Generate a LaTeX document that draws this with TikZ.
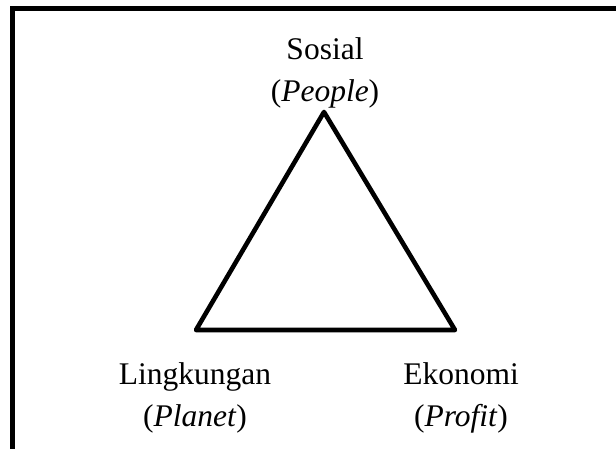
\documentclass[tikz,border=0pt]{standalone}
\usepackage{fontspec}
\setmainfont{Liberation Serif}
\begin{document}
\begin{tikzpicture}[x=1pt,y=-1pt,
  lbl/.style={anchor=base,inner sep=0pt,font=\fontsize{31.5}{36}\selectfont},
  frame/.style={line width=5pt,line join=miter},
  tri/.style={line width=4.6pt,line join=round}]
\useasboundingbox (0,0) rectangle (616,449);
\fill[white] (0,0) rectangle (616,449);
% frame (partial)
\coordinate (fb) at (12.5,449);
\coordinate (fc) at (12.5,8.5);
\coordinate (fr) at (616,8.5);
\draw[frame] (fb) -- (fc) -- (fr);
% triangle
\coordinate (apex) at (324,112);
\coordinate (bl) at (196,330);
\coordinate (br) at (455,330);
\draw[tri] (apex) -- (bl) -- (br) -- cycle;
% labels
\node[lbl] (sosial) at (325,60) {Sosial};
\node[lbl] (people) at (325,102) {(\textit{People})};
\node[lbl] (ling) at (195,384) {Lingkungan};
\node[lbl] (planet) at (195,426) {(\textit{Planet})};
\node[lbl] (eko) at (461,384) {Ekonomi};
\node[lbl] (profit) at (461,426) {(\textit{Profit})};
\end{tikzpicture}
\end{document}
